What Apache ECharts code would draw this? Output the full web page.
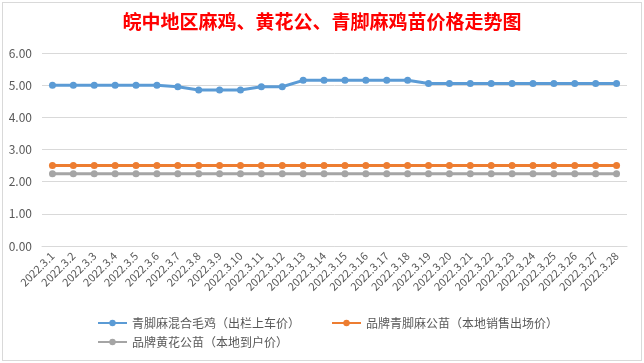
<!DOCTYPE html>
<html><head><meta charset="utf-8">
<script src="https://cdn.jsdelivr.net/npm/echarts@6/dist/echarts.min.js"></script>
<style>
html,body{margin:0;padding:0;background:#fff;}
#frame{position:absolute;left:2px;top:2px;width:638px;height:357px;border:1px solid #d9d9d9;}
#c{position:absolute;left:0;top:0;width:644px;height:363px;}
</style></head>
<body><div id="frame"></div><div id="c"></div>
<script>
const categories = ['2022.3.1','2022.3.2','2022.3.3','2022.3.4','2022.3.5','2022.3.6','2022.3.7','2022.3.8','2022.3.9','2022.3.10','2022.3.11','2022.3.12','2022.3.13','2022.3.14','2022.3.15','2022.3.16','2022.3.17','2022.3.18','2022.3.19','2022.3.20','2022.3.21','2022.3.22','2022.3.23','2022.3.24','2022.3.25','2022.3.26','2022.3.27','2022.3.28'];
const seriesNames = ['青脚麻混合毛鸡（出栏上车价）','品牌青脚麻公苗（本地销售出场价）','品牌黄花公苗（本地到户价）'];
const mixedChicken = [5.00,5.00,5.00,5.00,5.00,5.00,4.95,4.85,4.85,4.85,4.95,4.95,5.15,5.15,5.15,5.15,5.15,5.15,5.05,5.05,5.05,5.05,5.05,5.05,5.05,5.05,5.05,5.05];
const qingjiaoChick = [2.50,2.50,2.50,2.50,2.50,2.50,2.50,2.50,2.50,2.50,2.50,2.50,2.50,2.50,2.50,2.50,2.50,2.50,2.50,2.50,2.50,2.50,2.50,2.50,2.50,2.50,2.50,2.50];
const huanghuaChick = [2.25,2.25,2.25,2.25,2.25,2.25,2.25,2.25,2.25,2.25,2.25,2.25,2.25,2.25,2.25,2.25,2.25,2.25,2.25,2.25,2.25,2.25,2.25,2.25,2.25,2.25,2.25,2.25];
const colors = ['#5B9BD5','#ED7D31','#A5A5A5'];
const font = '"Noto Sans CJK SC", "Noto Sans", sans-serif';

const chart = echarts.init(document.getElementById('c'));
function mk(name, data, color){
  return {name, type:'line', data, symbol:'circle', symbolSize:7,
    lineStyle:{width:3,color}, itemStyle:{color}, animation:false};
}
chart.setOption({
  animation:false,
  title:{text:'皖中地区麻鸡、黄花公、青脚麻鸡苗价格走势图', left:'center', top:7,
    textStyle:{color:'#ff0000', fontSize:19, fontWeight:'bold', fontFamily:font}},
  legend:[
    {left:97, top:317, padding:0, itemWidth:29, itemHeight:8, itemGap:31, data:[seriesNames[0],seriesNames[1]],
      textStyle:{color:'#595959', fontSize:12, fontFamily:font}},
    {left:97, top:336, padding:0, itemWidth:29, itemHeight:8, data:[seriesNames[2]],
      textStyle:{color:'#595959', fontSize:12, fontFamily:font}}
  ],
  grid:{left:42, right:17, top:53, bottom:117},
  xAxis:{type:'category', data:categories, boundaryGap:true,
    axisLine:{show:true, lineStyle:{color:'#d9d9d9'}}, axisTick:{show:false},
    axisLabel:{interval:0, rotate:45, fontSize:11, color:'#595959', fontFamily:font, margin:8}},
  yAxis:{type:'value', min:0, max:6, interval:1,
    axisLine:{show:false}, axisTick:{show:false},
    splitLine:{lineStyle:{color:'#d9d9d9'}},
    axisLabel:{formatter:v=>v.toFixed(2), fontSize:12, color:'#595959', fontFamily:font, margin:10}},
  series:[mk(seriesNames[0],mixedChicken,colors[0]), mk(seriesNames[1],qingjiaoChick,colors[1]), mk(seriesNames[2],huanghuaChick,colors[2])]
});
</script></body></html>
